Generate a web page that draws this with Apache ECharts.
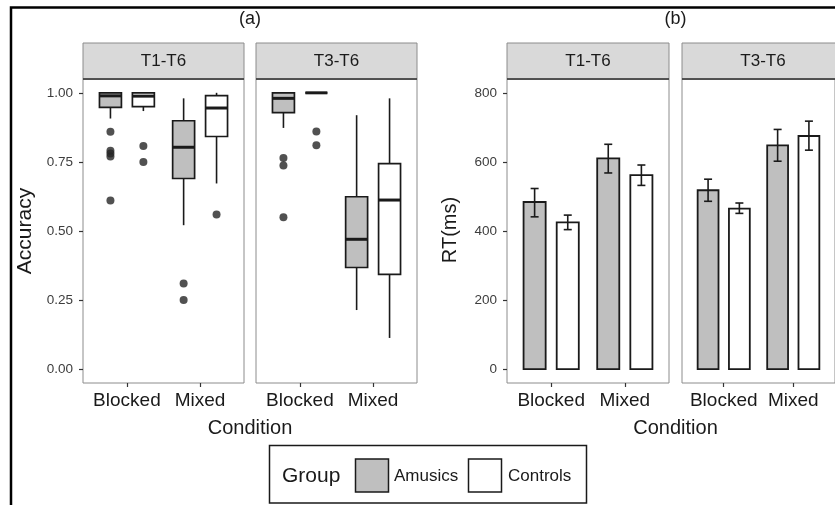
<!DOCTYPE html>
<html><head><meta charset="utf-8">
<script src="https://cdn.jsdelivr.net/npm/echarts@6/dist/echarts.min.js"></script>
<style>html,body{margin:0;padding:0;background:#fff}#c{width:835px;height:505px}</style>
</head><body><div id="c"></div>
<script>
// ---------- data ----------
const conditions = ['Blocked', 'Mixed'];
const groups = ['Amusics', 'Controls'];
const facets = ['T1-T6', 'T3-T6'];
const accTicks = [0, 0.25, 0.5, 0.75, 1];
const rtTicks = [0, 200, 400, 600, 800];
// Accuracy boxplot stats per condition: [min, q1, median, q3, max]
const accT1Amusics  = [[0.907, 0.947, 0.989, 1.000, 1.000], [0.521, 0.690, 0.803, 0.899, 0.980]];
const accT1Controls = [[0.934, 0.950, 0.988, 1.000, 1.000], [0.672, 0.842, 0.945, 0.990, 1.000]];
const accT3Amusics  = [[0.873, 0.928, 0.980, 1.000, 1.000], [0.214, 0.368, 0.470, 0.624, 0.919]];
const accT3Controls = [[1.000, 1.000, 1.000, 1.000, 1.000], [0.113, 0.343, 0.612, 0.744, 0.980]];
// Accuracy outliers: [conditionIndex, value]
const outT1Amusics  = [[0, 0.859], [0, 0.790], [0, 0.780], [0, 0.770], [0, 0.610], [1, 0.310], [1, 0.250]];
const outT1Controls = [[0, 0.808], [0, 0.750], [1, 0.560]];
const outT3Amusics  = [[0, 0.764], [0, 0.737], [0, 0.550]];
const outT3Controls = [[0, 0.860], [0, 0.810]];
// RT means (ms) per condition
const rtT1Amusics  = [484, 610];
const rtT1Controls = [425, 562];
const rtT3Amusics  = [518, 648];
const rtT3Controls = [465, 675];
// RT error bars [low, high]
const errT1Amusics  = [[441, 523], [568, 651]];
const errT1Controls = [[404, 446], [532, 591]];
const errT3Amusics  = [[486, 550], [602, 694]];
const errT3Controls = [[451, 481], [634, 718]];

// ---------- style ----------
const FONT = 'Liberation Sans, Arial, Helvetica, sans-serif';
const DODGE = 0.225, WIDTH = 0.30;
const GREY = '#bfbfbf', INK = '#1a1a1a';
const panels = [
  {left: 83, width: 161},
  {left: 256, width: 161},
  {left: 507, width: 162},
  {left: 682, width: 162}
];
const TOP = 79, HEIGHT = 304;

const grid = panels.map(p => ({left: p.left, top: TOP, width: p.width, height: HEIGHT,
  show: true, borderColor: '#8c8c8c', borderWidth: 1, backgroundColor: 'transparent', containLabel: false}));

const xAxis = panels.map((p, i) => ({
  type: 'value', gridIndex: i, min: 0.4, max: 2.6, position: 'bottom',
  axisLine: {show: false, onZero: false}, splitLine: {show: false},
  axisTick: {show: true, customValues: [1, 2], length: 4, lineStyle: {color: '#333', width: 1.2}},
  axisLabel: {customValues: [1, 2], formatter: v => conditions[Math.round(v) - 1], fontSize: 19,
    color: INK, fontFamily: FONT, margin: 8}
}));

const yAxis = panels.map((p, i) => {
  const isAcc = i < 2, first = (i % 2 === 0);
  const ticks = isAcc ? accTicks : rtTicks;
  return {
    type: 'value', gridIndex: i, position: 'left',
    min: isAcc ? -0.05 : -40, max: isAcc ? 1.05 : 840,
    axisLine: {show: false, onZero: false}, splitLine: {show: false},
    axisTick: {show: first, customValues: ticks, length: 4, lineStyle: {color: '#333', width: 1.2}},
    axisLabel: {show: first, customValues: ticks, fontSize: 13.5, color: '#3d3d3d', fontFamily: FONT, margin: 10,
      formatter: v => isAcc ? v.toFixed(2) : String(Math.round(v))}
  };
});

function boxRender(fill) {
  return function (params, api) {
    const x = api.value(0);
    const lo = api.coord([x, api.value(1)]), q1 = api.coord([x, api.value(2)]);
    const md = api.coord([x, api.value(3)]), q3 = api.coord([x, api.value(4)]);
    const hi = api.coord([x, api.value(5)]);
    const w = api.size([WIDTH, 0])[0];
    const cx = lo[0];
    const st = {stroke: INK, lineWidth: 1.6};
    return {type: 'group', children: [
      {type: 'line', shape: {x1: cx, y1: hi[1], x2: cx, y2: q3[1]}, style: st},
      {type: 'line', shape: {x1: cx, y1: q1[1], x2: cx, y2: lo[1]}, style: st},
      {type: 'rect', shape: {x: cx - w / 2, y: q3[1], width: w, height: q1[1] - q3[1]}, style: {fill: fill, stroke: INK, lineWidth: 1.7}},
      {type: 'line', shape: {x1: cx - w / 2, y1: md[1], x2: cx + w / 2, y2: md[1]}, style: {stroke: INK, lineWidth: 3}}
    ]};
  };
}
function barRender(fill) {
  return function (params, api) {
    const x = api.value(0);
    const base = api.coord([x, 0]), top = api.coord([x, api.value(1)]);
    const eLo = api.coord([x, api.value(2)]), eHi = api.coord([x, api.value(3)]);
    const w = api.size([WIDTH, 0])[0];
    const cx = base[0], cap = 4;
    const st = {stroke: INK, lineWidth: 1.6};
    return {type: 'group', children: [
      {type: 'rect', shape: {x: cx - w / 2, y: top[1], width: w, height: base[1] - top[1]}, style: {fill: fill, stroke: INK, lineWidth: 1.8}},
      {type: 'line', shape: {x1: cx, y1: eLo[1], x2: cx, y2: eHi[1]}, style: st},
      {type: 'line', shape: {x1: cx - cap, y1: eLo[1], x2: cx + cap, y2: eLo[1]}, style: st},
      {type: 'line', shape: {x1: cx - cap, y1: eHi[1], x2: cx + cap, y2: eHi[1]}, style: st}
    ]};
  };
}
const off = g => (g === 0 ? -DODGE : DODGE);
const boxData = (stats, g) => stats.map((s, i) => [i + 1 + off(g)].concat(s));
const outData = (pts, g) => pts.map(p => [p[0] + 1 + off(g), p[1]]);
const barData = (means, errs, g) => means.map((m, i) => [i + 1 + off(g), m, errs[i][0], errs[i][1]]);

const series = [];
function addBox(stats, outs, g, gi) {
  series.push({type: 'custom', name: groups[g], xAxisIndex: gi, yAxisIndex: gi, renderItem: boxRender(g === 0 ? GREY : '#fff'),
    data: boxData(stats, g), encode: {x: 0, y: [1, 2, 3, 4, 5]}, clip: false, z: 2});
  series.push({type: 'scatter', xAxisIndex: gi, yAxisIndex: gi, data: outData(outs, g), symbolSize: 8,
    itemStyle: {color: '#262626'}, z: 3});
}
function addBar(means, errs, g, gi) {
  series.push({type: 'custom', name: groups[g], xAxisIndex: gi, yAxisIndex: gi, renderItem: barRender(g === 0 ? GREY : '#fff'),
    data: barData(means, errs, g), encode: {x: 0, y: [1, 2, 3]}, clip: false, z: 2});
}
addBox(accT1Amusics, outT1Amusics, 0, 0);
addBox(accT1Controls, outT1Controls, 1, 0);
addBox(accT3Amusics, outT3Amusics, 0, 1);
addBox(accT3Controls, outT3Controls, 1, 1);
addBar(rtT1Amusics, errT1Amusics, 0, 2);
addBar(rtT1Controls, errT1Controls, 1, 2);
addBar(rtT3Amusics, errT3Amusics, 0, 3);
addBar(rtT3Controls, errT3Controls, 1, 3);

// ---------- decorations ----------
const graphic = [];
panels.forEach((p, i) => {
  graphic.push({type: 'rect', shape: {x: p.left, y: 43, width: p.width, height: 36},
    style: {fill: '#d9d9d9', stroke: '#8c8c8c', lineWidth: 1}, z: 10});
  graphic.push({type: 'line', shape: {x1: p.left, y1: 79, x2: p.left + p.width, y2: 79},
    style: {stroke: '#333', lineWidth: 1.5}, z: 11});
  graphic.push({type: 'text', x: p.left + p.width / 2, y: 61.5,
    style: {text: facets[i % 2], fontSize: 17, fontFamily: FONT, fill: INK, align: 'center', verticalAlign: 'middle'}, z: 12});
});
const txt = (t, x, y, size, extra) => Object.assign({type: 'text', x: x, y: y,
  style: {text: t, fontSize: size, fontFamily: FONT, fill: INK, align: 'center', verticalAlign: 'middle'}, z: 12}, extra || {});
const ltxt = (t, x, y, size) => ({type: 'text', x: x, y: y,
  style: {text: t, fontSize: size, fontFamily: FONT, fill: INK, align: 'left', verticalAlign: 'middle'}, z: 13});
graphic.push(txt('(a)', 250, 19, 18));
graphic.push(txt('(b)', 675.5, 19, 18));
graphic.push(txt('Condition', 250, 428, 20));
graphic.push(txt('Condition', 675.5, 428, 20));
graphic.push(txt('Accuracy', 25, 231, 21, {rotation: Math.PI / 2}));
graphic.push(txt('RT(ms)', 450, 230, 20, {rotation: Math.PI / 2}));
// outer frame
graphic.push({type: 'polyline', shape: {points: [[11, 505], [11, 7.5], [835, 7.5]]}, style: {stroke: '#000', lineWidth: 2.5, fill: null}, z: 12});
// legend
graphic.push({type: 'rect', shape: {x: 269.5, y: 445.5, width: 317, height: 57.5}, style: {fill: '#fff', stroke: INK, lineWidth: 1.5}, z: 12});
graphic.push(ltxt('Group', 282, 476, 21));
graphic.push({type: 'rect', shape: {x: 355.5, y: 459, width: 33, height: 33}, style: {fill: GREY, stroke: INK, lineWidth: 1.5}, z: 13});
graphic.push(ltxt(groups[0], 394, 476, 17));
graphic.push({type: 'rect', shape: {x: 468.5, y: 459, width: 33, height: 33}, style: {fill: '#fff', stroke: INK, lineWidth: 1.5}, z: 13});
graphic.push(ltxt(groups[1], 508, 476, 17));

const chart = echarts.init(document.getElementById('c'), null, {renderer: 'canvas'});
chart.setOption({animation: false, backgroundColor: '#fff', grid, xAxis, yAxis, series, graphic});
</script></body></html>
